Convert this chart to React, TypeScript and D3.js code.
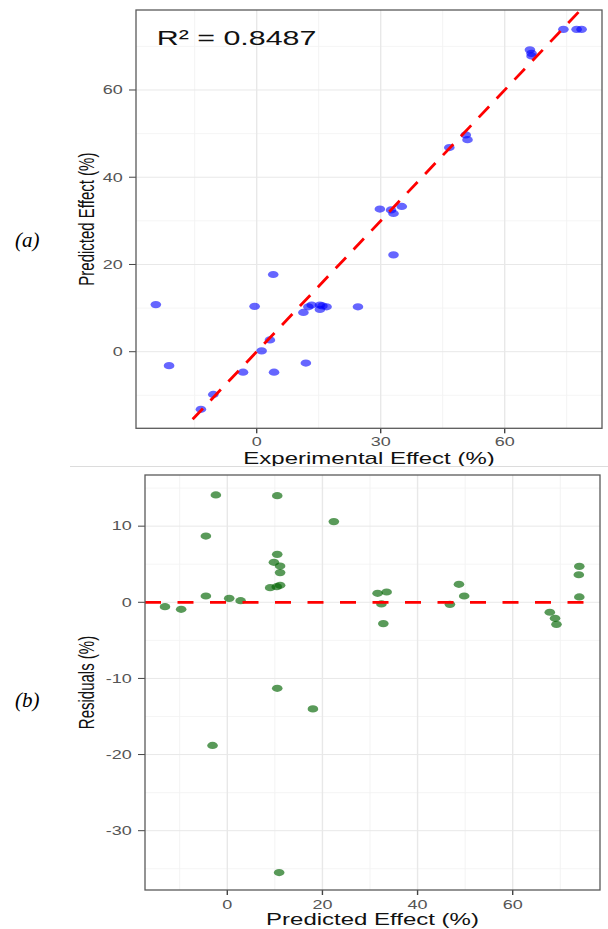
import React from "react";
import * as d3 from "d3";

// ---------- DATA ----------
// Panel (a): experimental vs predicted effect (%)
const expEffect = [78.6, 77.4, 74.2, 66.1, 66.5, 66.5, 46.6, 50.6, 51.0, 29.8, 33.1, 35.1, 32.5, 33.1, 4.0, -24.4, -0.5, 11.3, 12.5, 13.3, 15.3, 15.3, 16.9, 15.9, 24.5, 3.2, 1.2, -21.2, 11.9, -3.3, 4.2, -10.5, -13.5];
const predEffect = [73.9, 73.9, 73.9, 69.2, 68.4, 67.8, 46.8, 49.7, 48.6, 32.7, 31.7, 33.3, 32.5, 22.2, 17.7, 10.8, 10.4, 9.0, 10.3, 10.7, 10.7, 9.7, 10.3, 10.5, 10.3, 2.7, 0.2, -3.2, -2.6, -4.7, -4.7, -9.8, -13.2];
const r2Label = "R\u00B2 = 0.8487";
const fitLineFrom = -15.5;

// Panel (b): predicted effect vs residuals (%)
const residPred = [-13.1, -9.7, -2.4, -4.5, -4.5, 0.4, 2.8, 10.5, 10.5, 9.8, 11.1, 11.1, 9.0, 10.4, 11.1, 22.4, 31.6, 33.5, 32.4, 32.8, 46.8, 48.7, 49.8, 67.8, 68.9, 69.2, 74.0, 73.9, 74.0, 10.5, 18.0, -3.1, 10.9];
const residVal = [-0.58, -0.92, 14.1, 8.7, 0.83, 0.52, 0.21, 14.0, 6.3, 5.25, 4.76, 3.9, 1.92, 2.05, 2.23, 10.6, 1.18, 1.35, -0.22, -2.8, -0.27, 2.36, 0.83, -1.31, -2.1, -2.9, 4.72, 3.62, 0.7, -11.3, -14.0, -18.8, -35.5];

// Ticks
const aXMajor = [0, 30, 60];
const aXMinor = [-15, 15, 45, 75];
const aYMajor = [0, 20, 40, 60];
const aYMinor = [-10, 10, 30, 50, 70];
const bXMajor = [0, 20, 40, 60];
const bXMinor = [-10, 10, 30, 50, 70];
const bYMajor = [-30, -20, -10, 0, 10];
const bYMinor = [-35, -25, -15, -5, 5, 15];

const titles = {
  aX: "Experimental Effect (%)",
  aY: "Predicted Effect (%)",
  bX: "Predicted Effect (%)",
  bY: "Residuals (%)",
  a: "(a)",
  b: "(b)",
};

// ---------- LAYOUT ----------
const W = 608;
const H = 929;
const SX = 1.5; // horizontal stretch of the reference figure
const SANS = "'Liberation Sans', Arial, sans-serif";
const SERIF = "'Liberation Serif', 'Times New Roman', serif";

const A = { l: 136, r: 602, t: 10, b: 428.3 };
const B = { l: 145, r: 600, t: 475, b: 890 };

const xA = d3.scaleLinear().domain([-29.2, 83.54]).range([A.l, A.r]);
const yA = d3.scaleLinear().domain([-17.56, 78.34]).range([A.b, A.t]);
const xB = d3.scaleLinear().domain([-17.3, 78.35]).range([B.l, B.r]);
const yB = d3.scaleLinear().domain([-37.79, 16.72]).range([B.b, B.t]);

type STProps = {
  x: number;
  y: number;
  size: number;
  anchor?: "start" | "middle" | "end";
  fill?: string;
  rotate?: number;
  dy?: string;
  sx?: number;
  children: React.ReactNode;
};

function ST({ x, y, size, anchor = "start", fill = "#000", rotate, dy, sx = SX, children }: STProps) {
  const tr = `translate(${x},${y}) scale(${sx},1)` + (rotate ? ` rotate(${rotate})` : "");
  return (
    <text transform={tr} textAnchor={anchor} fontSize={size} fill={fill} fontFamily={SANS} dy={dy}>
      {children}
    </text>
  );
}

function Grid({ box, x, y, xMaj, xMin, yMaj, yMin }: any) {
  return (
    <g>
      {xMin.map((v: number) => (
        <line key={"xm" + v} x1={x(v)} x2={x(v)} y1={box.t} y2={box.b} stroke="#f3f3f3" strokeWidth={1} />
      ))}
      {yMin.map((v: number) => (
        <line key={"ym" + v} x1={box.l} x2={box.r} y1={y(v)} y2={y(v)} stroke="#f3f3f3" strokeWidth={0.8} />
      ))}
      {xMaj.map((v: number) => (
        <line key={"xM" + v} x1={x(v)} x2={x(v)} y1={box.t} y2={box.b} stroke="#e8e8e8" strokeWidth={1.4} />
      ))}
      {yMaj.map((v: number) => (
        <line key={"yM" + v} x1={box.l} x2={box.r} y1={y(v)} y2={y(v)} stroke="#e8e8e8" strokeWidth={1} />
      ))}
    </g>
  );
}

function Axes({ box, x, y, xMaj, yMaj, yLabelRight, xLabelBase }: any) {
  return (
    <g>
      {yMaj.map((v: number) => (
        <g key={"yt" + v}>
          <line x1={box.l - 7} x2={box.l} y1={y(v)} y2={y(v)} stroke="#444" strokeWidth={1} />
          <ST x={yLabelRight} y={y(v)} size={12} anchor="end" fill="#555" dy="0.36em">
            {String(v)}
          </ST>
        </g>
      ))}
      {xMaj.map((v: number) => (
        <g key={"xt" + v}>
          <line x1={x(v)} x2={x(v)} y1={box.b} y2={box.b + 5} stroke="#444" strokeWidth={1.4} />
          <ST x={x(v)} y={xLabelBase} size={12} anchor="middle" fill="#555">
            {String(v)}
          </ST>
        </g>
      ))}
      <rect x={box.l} y={box.t} width={box.r - box.l} height={box.b - box.t} fill="none" stroke="#5a5a5a" strokeWidth={1.3} />
    </g>
  );
}

export default function App() {
  const lineA = d3.line<number>().x((v) => xA(v)).y((v) => yA(v));
  const lineTop = yA.domain()[1];
  return (
    <svg width={W} height={H} style={{ position: "absolute", left: 0, top: 0, background: "#fff" }}>
      <rect x={0} y={0} width={W} height={H} fill="#fff" />
      <defs>
        <clipPath id="clipA">
          <rect x={A.l} y={A.t} width={A.r - A.l} height={A.b - A.t} />
        </clipPath>
        <clipPath id="clipB">
          <rect x={B.l} y={B.t} width={B.r - B.l} height={B.b - B.t} />
        </clipPath>
      </defs>

      {/* ---------- Panel (a) ---------- */}
      <Grid box={A} x={xA} y={yA} xMaj={aXMajor} xMin={aXMinor} yMaj={aYMajor} yMin={aYMinor} />
      <g clipPath="url(#clipA)">
        {expEffect.map((v, i) => (
          <ellipse key={"pa" + i} cx={xA(v)} cy={yA(predEffect[i])} rx={5.3} ry={3.6} fill="blue" fillOpacity={0.6} />
        ))}
        <path
          d={lineA([fitLineFrom, lineTop + 1]) || ""}
          fill="none"
          stroke="red"
          strokeWidth={2.8}
          strokeDasharray="15,11"
        />
      </g>
      <Axes box={A} x={xA} y={yA} xMaj={aXMajor} yMaj={aYMajor} yLabelRight={122.7} xLabelBase={446} />
      <ST x={156.7} y={45} size={20} sx={1.52} fill="#111">
        {r2Label}
      </ST>
      <ST x={(A.l + A.r) / 2} y={464} size={16} anchor="middle" fill="#111">
        {titles.aX}
      </ST>
      <ST x={85.5} y={(A.t + A.b) / 2} size={15} anchor="middle" rotate={-90} dy="0.36em" fill="#111">
        {titles.aY}
      </ST>
      <text x={15} y={247} fontFamily={SERIF} fontStyle="italic" fontSize={21} fill="#000">
        {titles.a}
      </text>

      {/* separator */}
      <line x1={70} x2={W} y1={466.5} y2={466.5} stroke="#dcdcdc" strokeWidth={1} />

      {/* ---------- Panel (b) ---------- */}
      <Grid box={B} x={xB} y={yB} xMaj={bXMajor} xMin={bXMinor} yMaj={bYMajor} yMin={bYMinor} />
      <g clipPath="url(#clipB)">
        {residPred.map((v, i) => (
          <ellipse key={"pb" + i} cx={xB(v)} cy={yB(residVal[i])} rx={5.3} ry={3.6} fill="darkgreen" fillOpacity={0.65} />
        ))}
        <line
          x1={B.l}
          x2={B.r}
          y1={yB(0)}
          y2={yB(0)}
          stroke="red"
          strokeWidth={2.8}
          strokeDasharray="16,16.5"
        />
      </g>
      <Axes box={B} x={xB} y={yB} xMaj={bXMajor} yMaj={bYMajor} yLabelRight={131.7} xLabelBase={909} />
      <ST x={(B.l + B.r) / 2} y={924.5} size={16} anchor="middle" fill="#111">
        {titles.bX}
      </ST>
      <ST x={85.7} y={(B.t + B.b) / 2} size={15} anchor="middle" rotate={-90} dy="0.36em" fill="#111">
        {titles.bY}
      </ST>
      <text x={15} y={707} fontFamily={SERIF} fontStyle="italic" fontSize={21} fill="#000">
        {titles.b}
      </text>
    </svg>
  );
}
